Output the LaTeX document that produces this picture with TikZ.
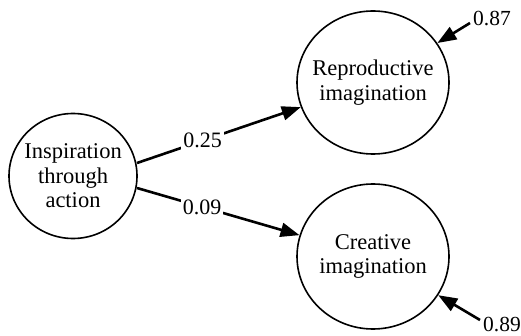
\documentclass[tikz,border=0pt]{standalone}
\usepackage{fontspec}
\setmainfont{Liberation Serif}
\usetikzlibrary{shapes.geometric,arrows.meta}
\begin{document}
\begin{tikzpicture}[x=1pt,y=-1pt,
  latent/.style={ellipse,draw,line width=1.6pt,inner xsep=-40pt,inner ysep=-30pt,
    align=center,font=\fontsize{22.5}{24.5}\selectfont},
  path/.style={line width=2.6pt,-{Triangle[length=19pt,width=14pt]}},
  coef/.style={fill=white,inner sep=2pt,font=\fontsize{22}{24}\selectfont},
  errlab/.style={font=\fontsize{21.5}{24}\selectfont,inner sep=0pt}]
\useasboundingbox (0,0) rectangle (521,336);

\node[latent,minimum width=128pt,minimum height=125pt] (insp) at (73,176)
  {Inspiration\\through\\action};
\node[latent,minimum width=152pt,minimum height=143pt] (repro) at (373,82.5)
  {Reproductive\\imagination};
\node[latent,minimum width=152pt,minimum height=145pt] (creat) at (373,256.5)
  {Creative\\imagination};

% structural paths
\coordinate (s1) at (137,163);
\coordinate (s2) at (137,188);
\draw[path] (s1) -- (repro) node[coef,pos=0.4] {0.25};
\draw[path] (s2) -- (creat) node[coef,pos=0.4] {0.09};

% residual terms
\node[errlab] (e1) at (492,19) {0.87};
\node[errlab] (e2) at (502,325) {0.89};
\coordinate (e1t) at (470,23);
\coordinate (e2t) at (480,320);
\draw[path] (e1t) -- (repro);
\draw[path] (e2t) -- (creat);
\end{tikzpicture}
\end{document}
